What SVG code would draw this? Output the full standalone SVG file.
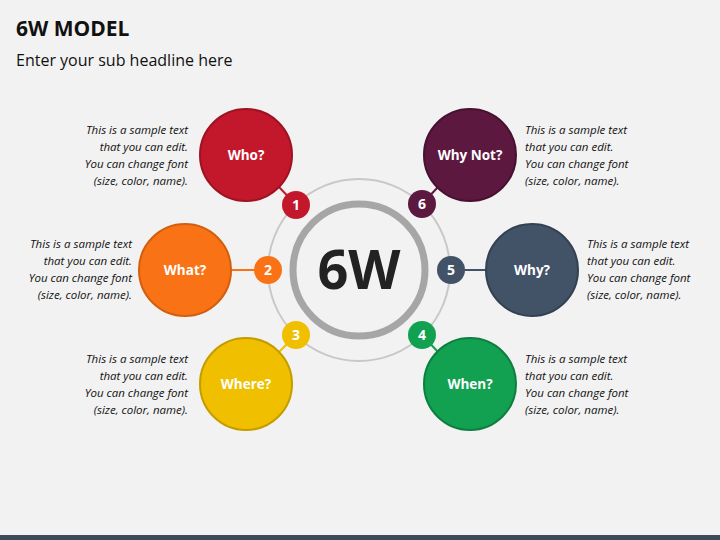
<svg xmlns="http://www.w3.org/2000/svg" width="720" height="540" viewBox="0 0 720 540">
<style>
.t{font-family:"Open Sans","Liberation Sans",sans-serif;font-style:italic;font-size:11.5px;fill:#111}
.r{text-anchor:end}
.lbl{font-family:"Open Sans","Liberation Sans",sans-serif;font-weight:bold;font-size:13.5px;fill:#fff;text-anchor:middle}
.num{font-family:"Open Sans","Liberation Sans",sans-serif;font-weight:bold;font-size:14px;fill:#fff;text-anchor:middle}
.big{stroke-width:2}
</style>
<rect width="720" height="540" fill="#f2f2f2"/>
<rect y="535" width="720" height="5" fill="#3e4a5a"/>
<text x="16" y="36" font-family="Open Sans,Liberation Sans,sans-serif" font-weight="bold" font-size="21" fill="#111">6W MODEL</text>
<text x="16" y="66" font-family="Open Sans,Liberation Sans,sans-serif" font-size="16" fill="#111">Enter your sub headline here</text>
<g id="connectors" stroke-width="2">
<circle cx="359" cy="270" r="91" fill="none" stroke="#c8c8c8" stroke-width="2"/>
<line x1="279" y1="187" x2="296" y2="205" stroke="#c3182b"/>
<line x1="231" y1="270" x2="268" y2="270" stroke="#fa7216"/>
<line x1="279" y1="352" x2="296" y2="335" stroke="#efbf00"/>
<line x1="438" y1="352" x2="422" y2="335" stroke="#12a150"/>
<line x1="486" y1="270" x2="451" y2="270" stroke="#425368"/>
<line x1="438" y1="187" x2="422" y2="204" stroke="#5d1840"/>
</g>
<g id="center">
<circle cx="359" cy="270" r="66" fill="#f2f2f2" stroke="#a6a6a6" stroke-width="7"/>
<text x="359" y="289" text-anchor="middle" font-family="Open Sans,Liberation Sans,sans-serif" font-weight="bold" font-size="54" fill="#222">6W</text>
</g>
<g id="who"><circle class="big" cx="246" cy="155" r="46" fill="#c3182b" stroke="#9e1322"/><text class="lbl" x="246" y="160">Who?</text></g>
<g id="what"><circle class="big" cx="185" cy="270" r="46" fill="#fa7216" stroke="#d25e0e"/><text class="lbl" x="185" y="275">What?</text></g>
<g id="where"><circle class="big" cx="246" cy="384" r="46" fill="#efbf00" stroke="#c49c00"/><text class="lbl" x="246" y="389">Where?</text></g>
<g id="when"><circle class="big" cx="470" cy="384" r="46" fill="#12a150" stroke="#0e7e3e"/><text class="lbl" x="470" y="389">When?</text></g>
<g id="why"><circle class="big" cx="532" cy="270" r="46" fill="#425368" stroke="#334152"/><text class="lbl" x="532" y="275">Why?</text></g>
<g id="whynot"><circle class="big" cx="470" cy="155" r="46" fill="#5d1840" stroke="#471130"/><text class="lbl" x="470" y="160">Why Not?</text></g>
<g id="n1"><circle cx="296" cy="205" r="14" fill="#c3182b"/><text class="num" x="296" y="210">1</text></g>
<g id="n2"><circle cx="268" cy="270" r="14" fill="#fa7216"/><text class="num" x="268" y="275">2</text></g>
<g id="n3"><circle cx="296" cy="335" r="14" fill="#efbf00"/><text class="num" x="296" y="340">3</text></g>
<g id="n4"><circle cx="422" cy="335" r="14" fill="#12a150"/><text class="num" x="422" y="340">4</text></g>
<g id="n5"><circle cx="451" cy="270" r="14" fill="#425368"/><text class="num" x="451" y="275">5</text></g>
<g id="n6"><circle cx="422" cy="204" r="14" fill="#5d1840"/><text class="num" x="422" y="209">6</text></g>
<g id="texts">
<text class="t r" x="188" y="134"><tspan x="188">This is a sample text</tspan><tspan x="188" dy="17">that you can edit.</tspan><tspan x="188" dy="17">You can change font</tspan><tspan x="188" dy="17">(size, color, name).</tspan></text>
<text class="t r" x="132" y="248"><tspan x="132">This is a sample text</tspan><tspan x="132" dy="17">that you can edit.</tspan><tspan x="132" dy="17">You can change font</tspan><tspan x="132" dy="17">(size, color, name).</tspan></text>
<text class="t r" x="188" y="363"><tspan x="188">This is a sample text</tspan><tspan x="188" dy="17">that you can edit.</tspan><tspan x="188" dy="17">You can change font</tspan><tspan x="188" dy="17">(size, color, name).</tspan></text>
<text class="t" x="525" y="134"><tspan x="525">This is a sample text</tspan><tspan x="525" dy="17">that you can edit.</tspan><tspan x="525" dy="17">You can change font</tspan><tspan x="525" dy="17">(size, color, name).</tspan></text>
<text class="t" x="587" y="248"><tspan x="587">This is a sample text</tspan><tspan x="587" dy="17">that you can edit.</tspan><tspan x="587" dy="17">You can change font</tspan><tspan x="587" dy="17">(size, color, name).</tspan></text>
<text class="t" x="525" y="363"><tspan x="525">This is a sample text</tspan><tspan x="525" dy="17">that you can edit.</tspan><tspan x="525" dy="17">You can change font</tspan><tspan x="525" dy="17">(size, color, name).</tspan></text>
</g>
</svg>
